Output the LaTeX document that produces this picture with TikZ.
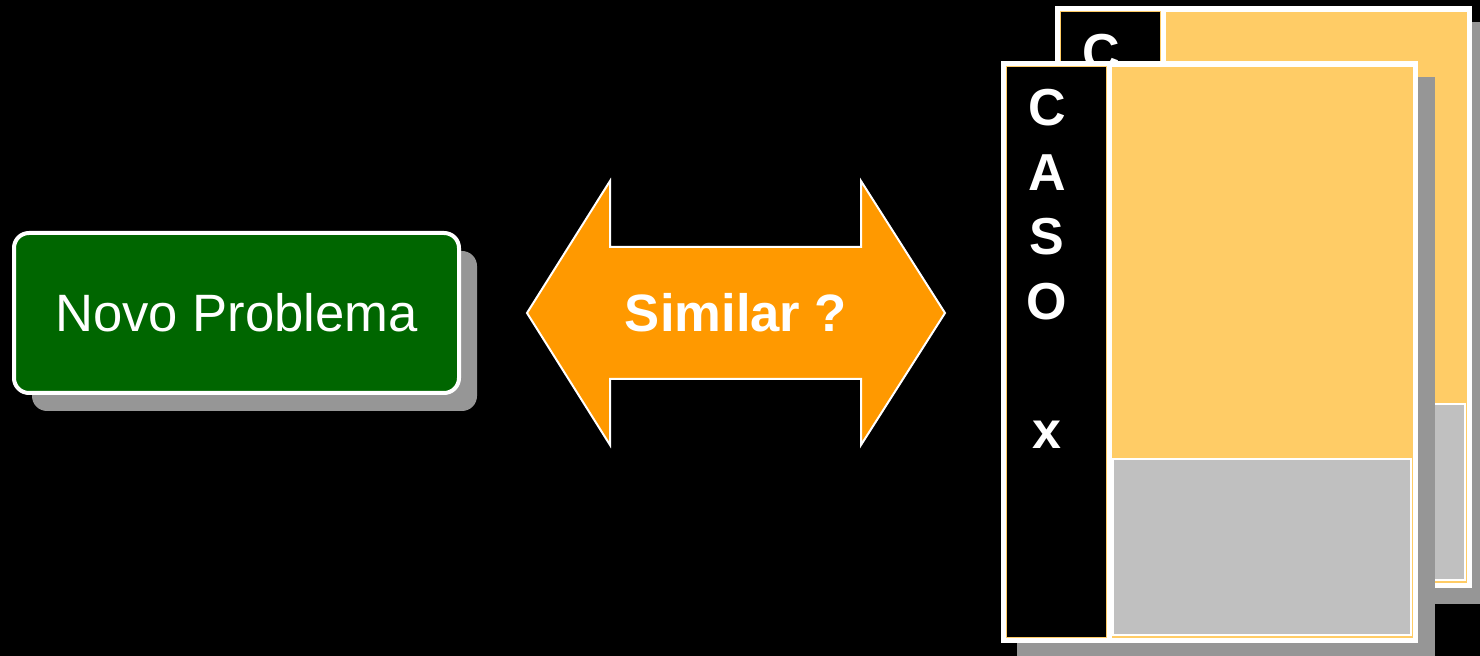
\documentclass[tikz,border=0pt]{standalone}
\usepackage{fontspec}
\setmainfont{Liberation Sans}
\usetikzlibrary{shadows}

\definecolor{darkgreen}{HTML}{006600}
\definecolor{arroworange}{HTML}{FF9900}
\definecolor{cardyellow}{HTML}{FFCC66}
\definecolor{cardgray}{HTML}{C0C0C0}
\definecolor{shadowgray}{HTML}{969696}

\tikzstyle{problem} = [
rectangle,
rounded corners=7.5pt,
draw=white,
line width=2pt,
fill=darkgreen,
text=white,
minimum width=222.5pt,
minimum height=80pt,
inner sep=0pt,
font=\fontsize{26.3}{30}\selectfont,
drop shadow={shadow xshift=9pt, shadow yshift=-9pt, fill=shadowgray, opacity=1}]
\tikzstyle{similar} = [
fill=arroworange,
draw=white,
line width=1pt]
\tikzstyle{arrowtext} = [
text=white,
inner sep=0pt,
font=\bfseries\fontsize{26.3}{30}\selectfont]
\tikzstyle{casetext} = [
anchor=base,
text=white,
inner sep=0pt,
font=\bfseries\fontsize{26}{30}\selectfont]

\begin{document}
\begin{tikzpicture}[x=0.5pt, y=-0.5pt]

\useasboundingbox (0,0) rectangle (1480,656);
\fill[black] (0,0) rectangle (1480,656);

\node[problem] (problem) at (236.5,313) {Novo Problema};

\draw[similar] (527,313) -- (610,181) -- (610,247) -- (861,247) -- (861,181)
    -- (945,313) -- (861,445) -- (861,379) -- (610,379) -- (610,445) -- cycle;
\node[arrowtext] (similarText) at (736,313) {Similar ?};

% back card first, front card on top of it
\foreach \cx/\cy/\id in {1055/6/back, 1001/61/front} {
\begin{scope}[shift={(\cx,\cy)}]
\fill[shadowgray] (16,16) rectangle (434,598);
\fill[white] (0,0) rectangle (417,582);
\draw[cardyellow, fill=black, line width=0.5pt] (5,6) rectangle (105,577);
\fill[cardyellow] (111,6) rectangle (412,577);
\draw[white, fill=cardgray, line width=1pt] (112,398) rectangle (410,574);
\foreach \ch/\row in {C/0, A/1, S/2, O/3, x/5}
    \node[casetext] (\id\ch) at (46,{65+64.5*\row}) {\ch};
\end{scope}
}

\end{tikzpicture}
\end{document}
